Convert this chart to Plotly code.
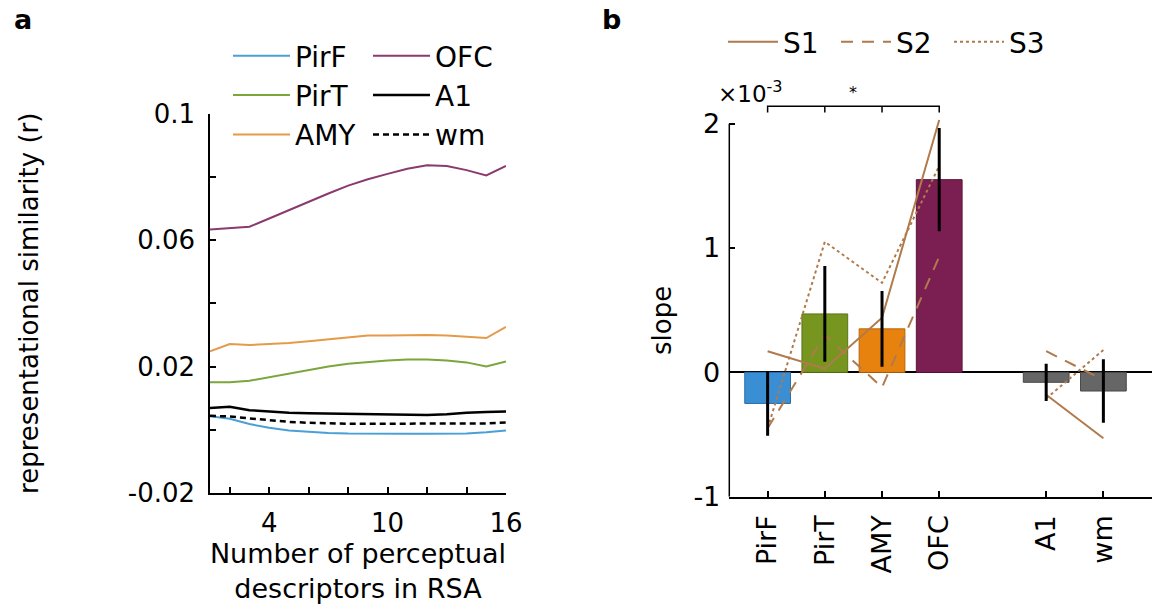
import plotly.graph_objects as go

W, H = 1152, 609
FONT = "DejaVu Sans"

# ---- panel a: representational similarity vs number of descriptors ----
n_desc = list(range(1, 17))
sim_pirf = [0.0043, 0.0035, 0.0018, 0.0006, -0.0002, -0.0007, -0.0010, -0.0012,
            -0.0013, -0.0013, -0.0013, -0.0013, -0.0013, -0.0012, -0.0008, -0.0002]
sim_pirt = [0.0150, 0.0150, 0.0155, 0.0166, 0.0179, 0.0190, 0.0200, 0.0209,
            0.0215, 0.0219, 0.0222, 0.0222, 0.0219, 0.0213, 0.0200, 0.0216]
sim_amy = [0.0248, 0.0271, 0.0268, 0.0270, 0.0274, 0.0280, 0.0286, 0.0290,
           0.0298, 0.0298, 0.0299, 0.0300, 0.0298, 0.0295, 0.0290, 0.0325]
sim_ofc = [0.0633, 0.0638, 0.0642, 0.0668, 0.0695, 0.0721, 0.0747, 0.0772,
           0.0792, 0.0809, 0.0825, 0.0836, 0.0834, 0.0821, 0.0804, 0.0834]
sim_a1 = [0.0069, 0.0073, 0.0062, 0.0057, 0.0054, 0.0052, 0.0051, 0.0051,
          0.0051, 0.0050, 0.0049, 0.0047, 0.0049, 0.0054, 0.0056, 0.0058]
sim_wm = [0.0044, 0.0042, 0.0036, 0.0030, 0.0025, 0.0022, 0.0020, 0.0019,
          0.0019, 0.0019, 0.0018, 0.0018, 0.0018, 0.0019, 0.0020, 0.0023]

a_xticks = [4, 10, 16]
a_xticklabels = ["4", "10", "16"]
a_xminor = [2, 6, 8, 12, 14]
a_yticks = [-0.02, 0.02, 0.06, 0.1]
a_yticklabels = ["-0.02", "0.02", "0.06", "0.1"]
a_yminor = [0, 0.04, 0.08]

# ---- panel b: slope per region (x 10^-3) ----
regions = ["PirF", "PirT", "AMY", "OFC", "A1", "wm"]
region_pos = [1, 2, 3, 4, 5.87, 6.87]
slope_mean = [-0.25, 0.47, 0.35, 1.55, -0.08, -0.15]
slope_sem = [0.26, 0.385, 0.305, 0.415, 0.15, 0.255]
slope_s1 = [0.17, 0.03, 0.44, 2.03, -0.18, -0.53]
slope_s2 = [-0.45, 0.30, -0.12, 0.93, 0.17, -0.06]
slope_s3 = [-0.45, 1.05, 0.72, 1.66, -0.21, 0.18]
b_yticks = [-1, 0, 1, 2]
b_yticklabels = ["-1", "0", "1", "2"]

bar_colors = ["#3a8ed4", "#76961f", "#e8820f", "#7b1f52", "#666666", "#666666"]
bar_edges = ["#2a6ea8", "#5a7516", "#b8650a", "#5a1539", "#4a4a4a", "#4a4a4a"]
subj_color = "#b07a4c"


def px_x(x):
    return x / W


def px_y(y):
    return 1 - y / H


def split_groups(vals):
    # olfactory regions and control regions are joined separately
    return list(vals[:4]) + [None] + list(vals[4:])


fig = go.Figure()

line_specs = [
    ("PirF", sim_pirf, "#4a9fd5", 2, "solid", "legend"),
    ("PirT", sim_pirt, "#7ba63c", 2, "solid", "legend"),
    ("AMY", sim_amy, "#e59a4a", 2, "solid", "legend"),
    ("OFC", sim_ofc, "#8a3a6e", 2, "solid", "legend3"),
    ("A1", sim_a1, "black", 2.5, "solid", "legend3"),
    ("wm", sim_wm, "black", 2.5, "6px,4px", "legend3"),
]
for name, vals, color, width, dash, leg in line_specs:
    fig.add_trace(go.Scatter(
        x=n_desc, y=vals, mode="lines", name=name,
        line=dict(color=color, width=width, dash=dash),
        xaxis="x", yaxis="y", legend=leg,
    ))

fig.add_trace(go.Bar(
    x=region_pos, y=slope_mean, width=0.8,
    marker=dict(color=bar_colors, line=dict(color=bar_edges, width=1)),
    xaxis="x2", yaxis="y2", showlegend=False,
))

for name, vals, dash in [("S1", slope_s1, "solid"),
                         ("S2", slope_s2, "12px,9px"),
                         ("S3", slope_s3, "dot")]:
    fig.add_trace(go.Scatter(
        x=split_groups(region_pos), y=split_groups(vals), mode="lines",
        name=name, connectgaps=False,
        line=dict(color=subj_color, width=2, dash=dash),
        xaxis="x2", yaxis="y2", legend="legend2",
    ))

fig.add_trace(go.Scatter(
    x=region_pos, y=slope_mean, mode="markers",
    marker=dict(size=1, opacity=0),
    error_y=dict(type="data", array=slope_sem, color="black", thickness=3, width=0),
    xaxis="x2", yaxis="y2", showlegend=False, hoverinfo="skip",
))

tick_style = dict(ticks="inside", ticklen=6, tickwidth=1.5, tickcolor="black")
axis_common = dict(
    showline=True, linecolor="black", linewidth=1.5, showgrid=False,
    zeroline=False, **tick_style,
)


def minor_ticks(vals):
    return dict(tickmode="array", tickvals=vals, showgrid=False, **tick_style)


b_top = 2.25
b_px0, b_px2 = 496.7, 123.7
b_px_top = b_px0 - (b_px0 - b_px2) * (b_top + 1) / 3

fig.update_layout(
    width=W, height=H,
    margin=dict(l=0, r=0, t=0, b=0, autoexpand=False),
    paper_bgcolor="white", plot_bgcolor="white",
    font=dict(family=FONT, size=26, color="black"),
    xaxis=dict(
        axis_common, domain=[px_x(210), px_x(506)], range=[1, 16], anchor="y",
        tickmode="array", tickvals=a_xticks, ticktext=a_xticklabels,
        minor=minor_ticks(a_xminor), ticklabelstandoff=6,
        tickfont=dict(family=FONT, size=26, color="black"),
        title=dict(text="Number of perceptual<br>descriptors in RSA",
                   font=dict(family=FONT, size=27), standoff=6),
    ),
    yaxis=dict(
        axis_common, domain=[px_y(493), px_y(113.5)], range=[-0.02, 0.1],
        anchor="x", tickmode="array", tickvals=a_yticks, ticktext=a_yticklabels,
        minor=minor_ticks(a_yminor), ticklabelstandoff=8,
        tickfont=dict(family=FONT, size=26, color="black"),
        title=dict(text="representational similarity (r)",
                   font=dict(family=FONT, size=26), standoff=82),
    ),
    xaxis2=dict(
        axis_common, domain=[px_x(729.3), 1.0], range=[0.33, 7.72], anchor="y2",
        tickmode="array", tickvals=region_pos, ticktext=regions, tickangle=-90,
        ticklabelstandoff=6,
        tickfont=dict(family=FONT, size=27, color="black"),
    ),
    yaxis2=dict(
        axis_common, domain=[px_y(b_px0), px_y(b_px_top)], range=[-1, b_top],
        anchor="x2", showline=False, tickmode="array", tickvals=b_yticks,
        ticktext=b_yticklabels, ticklabelstandoff=8,
        tickfont=dict(family=FONT, size=27, color="black"),
        zeroline=True, zerolinecolor="black", zerolinewidth=2,
    ),
    legend=dict(
        x=px_x(228), y=px_y(31), xanchor="left", yanchor="top",
        orientation="v", itemwidth=57, bgcolor="rgba(0,0,0,0)",
        font=dict(family=FONT, size=28), traceorder="normal",
    ),
    legend3=dict(
        x=px_x(368), y=px_y(31), xanchor="left", yanchor="top",
        orientation="v", itemwidth=57, bgcolor="rgba(0,0,0,0)",
        font=dict(family=FONT, size=28), traceorder="normal",
    ),
    legend2=dict(
        x=px_x(723), y=px_y(42), xanchor="left", yanchor="middle",
        orientation="h", itemwidth=50, entrywidth=48, entrywidthmode="pixels",
        bgcolor="rgba(0,0,0,0)", font=dict(family=FONT, size=28),
    ),
    showlegend=True,
)

# y label of panel b
fig.add_annotation(x=px_x(662), y=px_y(321), xref="paper", yref="paper",
                   text="slope", textangle=-90, showarrow=False,
                   xanchor="center", yanchor="middle",
                   font=dict(family=FONT, size=26, color="black"))

# left spine of panel b, spanning only the labelled range
fig.add_shape(type="line", xref="x2 domain", yref="y2", x0=0, x1=0,
              y0=b_yticks[0], y1=b_yticks[-1],
              line=dict(color="black", width=1.5))

# significance bracket PirF .. OFC
bracket_level = 2.14
bracket_drop = 0.05
xs = region_pos[:4]
path = f"M{xs[0]},{bracket_level - bracket_drop} L{xs[0]},{bracket_level} " \
       f"L{xs[-1]},{bracket_level} L{xs[-1]},{bracket_level - bracket_drop}"
for xm in xs[1:3]:
    path += f" M{xm},{bracket_level} L{xm},{bracket_level - bracket_drop}"
fig.add_shape(type="path", xref="x2", yref="y2", path=path,
              line=dict(color="black", width=1.5))
fig.add_annotation(x=(xs[0] + xs[-1]) / 2, y=bracket_level, xref="x2", yref="y2",
                   text="*", showarrow=False, yshift=14,
                   font=dict(family=FONT, size=16, color="black"))

fig.add_annotation(x=px_x(716), y=px_y(92), xref="paper", yref="paper",
                   xanchor="left", yanchor="middle", showarrow=False,
                   text="×10<sup>-3</sup>",
                   font=dict(family=FONT, size=23, color="black"))

for label, xp in [("a", 12), ("b", 600)]:
    fig.add_annotation(x=px_x(xp), y=px_y(20), xref="paper", yref="paper",
                       xanchor="left", yanchor="middle", showarrow=False,
                       text=f"<b>{label}</b>",
                       font=dict(family=FONT, size=27, color="black"))

fig.write_html("out.html")
